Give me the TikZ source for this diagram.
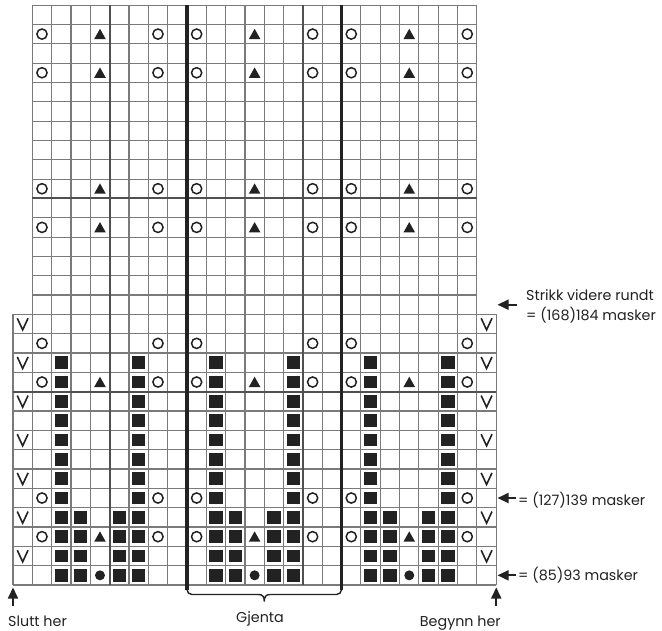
\documentclass[tikz,border=0pt]{standalone}
\usepackage{fontspec}
\setmainfont{Poppins}
\usetikzlibrary{arrows.meta}
\definecolor{ink}{HTML}{222222}
\definecolor{thingray}{HTML}{7A7A7A}
\definecolor{midgray}{HTML}{505050}
\tikzset{
  gridthin/.style={draw=thingray, line width=1.1pt},
  gridmid/.style={draw=midgray, line width=1.8pt},
  gridthick/.style={draw=ink, line width=3.6pt},
  osym/.style={draw=ink, line width=1.5pt},
  vsym/.style={draw=ink, line width=1.6pt, line join=miter},
  sqsym/.style={fill=ink},
  trisym/.style={fill=ink},
  dotsym/.style={fill=ink},
  lbl/.style={inner sep=0pt, text=ink, font=\fontsize{14.3}{20}\selectfont},
  ptr/.style={draw=ink, line width=1.7pt, -{Triangle[length=11pt,width=10pt]}},
  bracestyle/.style={draw=ink, line width=1.4pt}
}
\begin{document}
\begin{tikzpicture}[x=1pt,y=-1pt]
\useasboundingbox (0,0) rectangle (662,631);
\def\cw{19.33}
% thin grid
\foreach \r in {0,...,14} \draw[gridthin] (13,{585-\r*\cw}) -- (496.25,{585-\r*\cw});
\foreach \r in {15,...,30} \draw[gridthin] ({13+\cw},{585-\r*\cw}) -- ({13+24*\cw},{585-\r*\cw});
\foreach \k in {1,...,24} \draw[gridthin] ({13+\k*\cw},585) -- ({13+\k*\cw},{585-30*\cw});
\foreach \k in {0,25} \draw[gridthin] ({13+\k*\cw},585) -- ({13+\k*\cw},{585-14*\cw});
% medium lines
\foreach \k in {5,15} \draw[gridmid] ({13+\k*\cw},585) -- ({13+\k*\cw},{585-30*\cw});
\draw[gridmid] (13,{585-10*\cw}) -- (496.25,{585-10*\cw});
\draw[gridmid] ({13+\cw},{585-20*\cw}) -- ({13+24*\cw},{585-20*\cw});
% squares
\foreach \k in {2,6,10,14,18,22} \foreach \r in {0,...,11}
  \fill[sqsym] ({13+(\k+0.5)*\cw-6.6},{585-(\r+0.5)*\cw-6.4}) rectangle ++(13.2,12.8);
\foreach \k in {3,5,11,13,19,21} \foreach \r in {0,...,3}
  \fill[sqsym] ({13+(\k+0.5)*\cw-6.6},{585-(\r+0.5)*\cw-6.4}) rectangle ++(13.2,12.8);
% open circles
\foreach \k in {1,7,9,15,17,23} \foreach \r in {2,4,10,12,18,20,26,28}
  \draw[osym] ({13+(\k+0.5)*\cw},{585-(\r+0.5)*\cw}) circle (5.1);
% triangles
\foreach \k in {4,12,20} \foreach \r in {2,10,18,20,26,28}
  \fill[trisym] ({13+(\k+0.5)*\cw-5.8},{585-(\r+0.5)*\cw+5}) -- ({13+(\k+0.5)*\cw+5.8},{585-(\r+0.5)*\cw+5}) -- ({13+(\k+0.5)*\cw},{585-(\r+0.5)*\cw-5.3}) -- cycle;
% dots
\foreach \k in {4,12,20}
  \fill[dotsym] ({13+(\k+0.5)*\cw},{585-0.5*\cw}) circle (5);
% V symbols
\foreach \k in {0,24} \foreach \r in {1,3,...,13}
  \draw[vsym] ({13+(\k+0.5)*\cw-5.4},{585-(\r+0.5)*\cw-5.8}) -- ({13+(\k+0.5)*\cw},{585-(\r+0.5)*\cw+5.8}) -- ({13+(\k+0.5)*\cw+5.4},{585-(\r+0.5)*\cw-5.8});
% thick repeat lines
\coordinate (tL) at ({13+9*\cw},{585-30*\cw});
\coordinate (bL) at ({13+9*\cw},590);
\coordinate (tR) at ({13+17*\cw},{585-30*\cw});
\coordinate (bR) at ({13+17*\cw},590);
\draw[gridthick] (tL) -- (bL);
\draw[gridthick] (tR) -- (bR);
% bracket
\coordinate (brL) at ({13+9*\cw},586);
\coordinate (brR) at ({13+17*\cw},586);
\coordinate (tipA) at ({13+13*\cw-5.5},594.5);
\coordinate (tipB) at ({13+13*\cw+5.5},594.5);
\coordinate (tip) at ({13+13*\cw},601.5);
\draw[bracestyle, rounded corners=5pt] (brL) |- (tipA);
\draw[bracestyle, rounded corners=5pt] (brR) |- (tipB);
\draw[bracestyle] (tipA) .. controls ({13+13*\cw-1.5},594.5) and ({13+13*\cw},597) .. (tip)
  .. controls ({13+13*\cw},597) and ({13+13*\cw+1.5},594.5) .. (tipB);
% arrows
\coordinate (upLa) at (13,606);
\coordinate (upLb) at (13,587.5);
\coordinate (upRa) at (496.25,606);
\coordinate (upRb) at (496.25,587.5);
\draw[ptr] (upLa) -- (upLb);
\draw[ptr] (upRa) -- (upRb);
\coordinate (s1a) at (517,{585-14.5*\cw});
\coordinate (s1b) at (497.5,{585-14.5*\cw});
\coordinate (s2a) at (516,{585-4.5*\cw});
\coordinate (s2b) at (497.5,{585-4.5*\cw});
\coordinate (s3a) at (516,{585-0.5*\cw});
\coordinate (s3b) at (497.5,{585-0.5*\cw});
\draw[ptr] (s1a) -- (s1b);
\draw[ptr] (s2a) -- (s2b);
\draw[ptr] (s3a) -- (s3b);
% labels
\node[lbl, anchor=base west] (slutt) at (8,626.7) {Slutt her};
\node[lbl, anchor=base] (gjenta) at (260,622.7) {Gjenta};
\node[lbl, anchor=base east] (begynn) at (501,626) {Begynn her};
\node[lbl, anchor=base west] (strikk) at (526,301) {Strikk videre rundt};
\node[lbl, anchor=base west] (m168) at (526,321) {= (168)184 masker};
\node[lbl, anchor=base west] (m127) at (518,505) {= (127)139 masker};
\node[lbl, anchor=base west] (m85) at (518,580.7) {= (85)93 masker};
\end{tikzpicture}
\end{document}
